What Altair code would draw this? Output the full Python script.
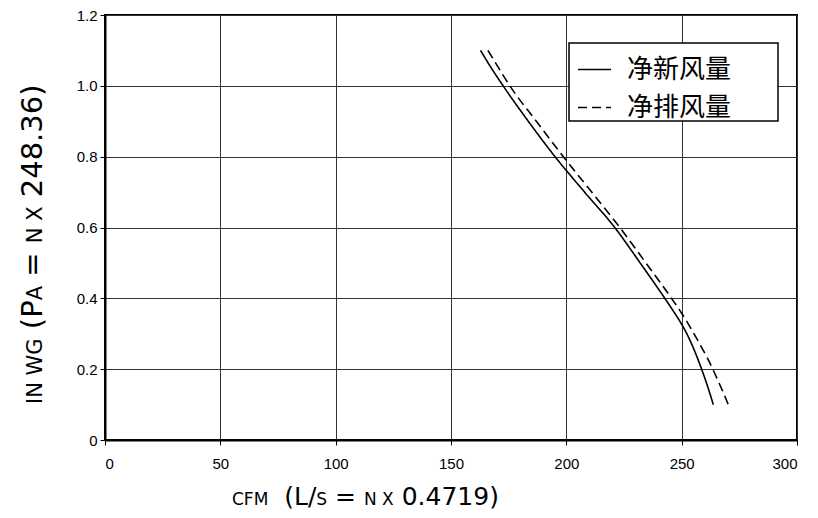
import altair as alt
import pandas as pd

# ---- data ----
series_names = ["净新风量", "净排风量"]

supply_cfm = [162.8, 167.5, 172.6, 183.5, 195.1, 207.9, 221.0, 232.0, 242.7, 246.3, 249.7,
              253.0, 255.7, 257.5, 259.2, 260.8, 262.3, 263.7]
supply_wg = [1.10, 1.05, 1.00, 0.90, 0.80, 0.70, 0.60, 0.50, 0.40, 0.365, 0.33,
             0.29, 0.25, 0.22, 0.19, 0.16, 0.13, 0.10]

exhaust_cfm = [166.0, 170.7, 175.5, 187.0, 198.7, 211.0, 223.2, 234.5, 245.6, 250.0,
               254.0, 257.5, 260.7, 263.5, 265.8, 268.1, 270.2]
exhaust_wg = [1.10, 1.05, 1.00, 0.90, 0.80, 0.70, 0.60, 0.50, 0.40, 0.358,
              0.315, 0.275, 0.237, 0.20, 0.167, 0.133, 0.10]

x_ticks = [0, 50, 100, 150, 200, 250, 300]
y_ticks = [0, 0.2, 0.4, 0.6, 0.8, 1.0, 1.2]

x_title_parts = ["CFM", "  (L/", "S", " = ", "N X", " 0.4719)"]
x_title_small = [True, False, True, False, True, False]
y_title_parts = ["IN WG", " (P", "A", " = ", "N X", " 248.36)"]
y_title_small = [True, False, True, False, True, False]

# ---- build table ----
df = pd.concat([
    pd.DataFrame({"cfm": supply_cfm, "wg": supply_wg, "series": series_names[0]}),
    pd.DataFrame({"cfm": exhaust_cfm, "wg": exhaust_wg, "series": series_names[1]}),
], ignore_index=True)

W, H = 692, 425
TITLE_FONT = "DejaVu Sans"
LABEL_FONT = "Liberation Sans"

# DejaVu Sans advance widths (em)
ADV = {" ": 0.318, "(": 0.390, ")": 0.390, ".": 0.318, "/": 0.337, "=": 0.838,
       "A": 0.684, "C": 0.698, "F": 0.575, "G": 0.775, "I": 0.295, "L": 0.557,
       "M": 0.863, "N": 0.748, "P": 0.603, "S": 0.635, "W": 0.989, "X": 0.686}
for d in "0123456789":
    ADV[d] = 0.636


def text_w(s, size):
    return sum(ADV.get(c, 0.6) for c in s) * size


one = pd.DataFrame({"a": [0]})


def title_layers(parts, small, big_size, small_size, start, base, vertical):
    layers = []
    cursor = 0.0
    for p, sm in zip(parts, small):
        size = small_size if sm else big_size
        lead = len(p) - len(p.lstrip(" "))
        offset = cursor + lead * ADV[" "] * size
        cursor += text_w(p, size)
        if vertical:
            enc = dict(x=alt.value(base), y=alt.value(start - offset))
            ang = 270
        else:
            enc = dict(x=alt.value(start + offset), y=alt.value(base))
            ang = 0
        layers.append(
            alt.Chart(one).mark_text(
                text=p.strip(), font=TITLE_FONT, fontSize=size, color="black",
                align="left", baseline="alphabetic", angle=ang
            ).encode(**enc)
        )
    return layers


lines = alt.Chart(df).mark_line(color="black", strokeWidth=1.6, interpolate="monotone").encode(
    x=alt.X("cfm:Q", scale=alt.Scale(domain=[0, 300], nice=False),
            axis=alt.Axis(values=x_ticks, title=None, labelPadding=11, format="d")),
    y=alt.Y("wg:Q", scale=alt.Scale(domain=[0, 1.2], nice=False),
            axis=alt.Axis(values=y_ticks, title=None, labelPadding=3,
                          labelExpr="datum.value == 0 ? '0' : format(datum.value, '.1f')")),
    strokeDash=alt.StrokeDash(
        "series:N",
        scale=alt.Scale(domain=series_names, range=[[1, 0], [9, 5]]),
        legend=alt.Legend(
            orient="none", legendX=472, legendY=37, title=None,
            labelFont="Noto Sans CJK SC", labelFontSize=26, labelColor="black",
            symbolType="stroke", symbolSize=1089, symbolStrokeWidth=1.6,
            symbolStrokeColor="black", labelOffset=15, rowPadding=7, padding=0,
        ),
    ),
)

legend_box = alt.Chart(one).mark_rect(fill="white", stroke="black", strokeWidth=1.5).encode(
    x=alt.value(464), x2=alt.value(673), y=alt.value(28), y2=alt.value(106)
)

x_title = title_layers(x_title_parts, x_title_small, 25, 17, 127, 490, False)
y_title = title_layers(y_title_parts, y_title_small, 29, 21, 389, -63, True)

chart = alt.layer(legend_box, lines, *x_title, *y_title).properties(
    width=W, height=H,
    autosize=alt.AutoSizeParams(type="none"),
    padding={"left": 97, "top": 7, "right": 10, "bottom": 75},
).configure_view(
    stroke="black", strokeWidth=2
).configure_axis(
    domainColor="black", domainWidth=2, tickColor="black", tickSize=5, tickWidth=1,
    labelFont=LABEL_FONT, labelFontSize=15, labelColor="black",
    grid=True, gridColor="#333333", gridWidth=1, gridOpacity=1,
)

chart.save("out.html", embed_options={"renderer": "svg", "actions": False})
